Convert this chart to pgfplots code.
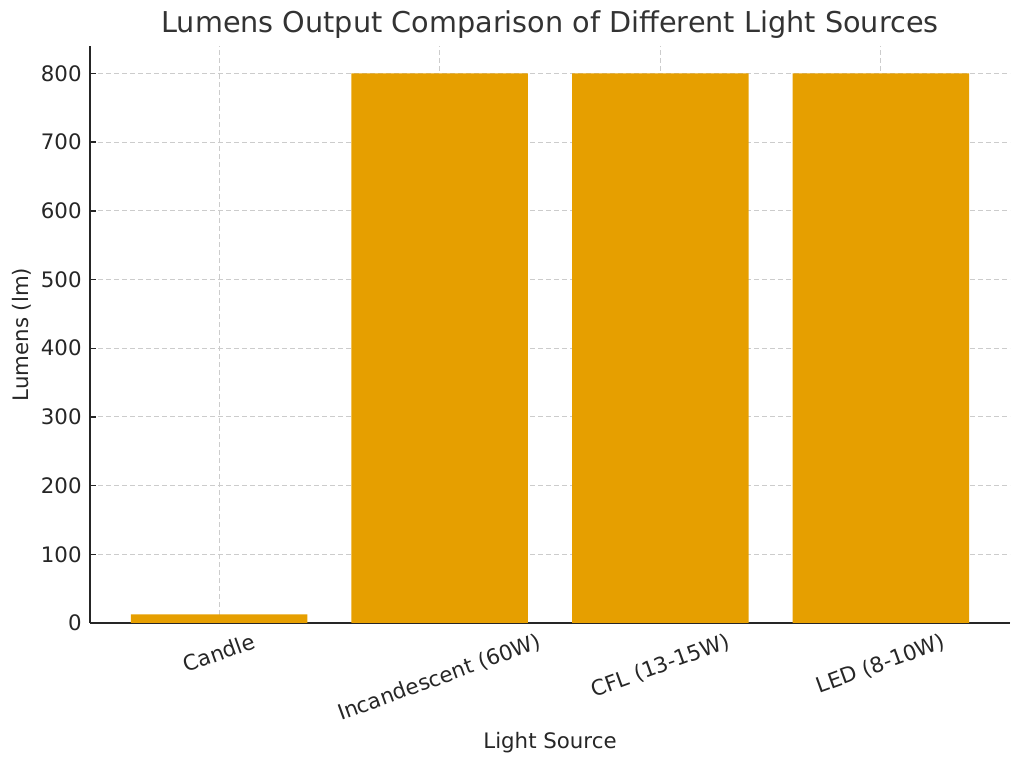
\documentclass[border=0pt]{standalone}
\usepackage{fontspec}
\setmainfont{DejaVu Sans}
\usepackage{pgfplots}
\pgfplotsset{compat=1.18}
\definecolor{barc}{HTML}{E69F00}
\definecolor{txt}{HTML}{262626}
\definecolor{ttl}{HTML}{333333}
\definecolor{gridc}{HTML}{CCCCCC}
\begin{document}
\begin{tikzpicture}
\begin{axis}[
  name=ax,
  scale only axis,
  width=460bp, height=288.5bp,
  xmin=-0.585, xmax=3.585, ymin=0, ymax=840,
  axis x line*=bottom, axis y line*=left,
  axis line style={txt, line width=0.7bp},
  ybar, bar width=0.8,
  xtick={0,1,2,3},
  xticklabels={\rotatebox{20}{Candle},\rotatebox{20}{Incandescent (60W)},\rotatebox{20}{CFL (13-15W)},\rotatebox{20}{LED (8-10W)}},
  ytick={0,100,...,800},
  tick align=inside,
  major tick length=3bp,
  tick style={txt, line width=0.7bp},
  grid=major,
  major grid style={gridc, dash pattern=on 2.5bp off 1.5bp, line width=0.5bp},
  /pgf/number format/assume math mode=true,
  ticklabel style={font=\fontsize{10.7}{12}\selectfont, text=txt},
  yticklabel style={inner sep=0pt, anchor=east, xshift=-4bp},
  xticklabel style={inner sep=0pt, anchor=north, yshift=-4.5bp},
  xlabel={Light Source},
  ylabel={Lumens (lm)},
  label style={font=\fontsize{10.7}{12}\selectfont, text=txt},
  xlabel style={at={(axis description cs:0.5,-0.2080)}, anchor=center},
  ylabel style={at={(axis description cs:-0.0739,0.5)}, anchor=center},
  every axis title shift=0pt,
  title={Lumens Output Comparison of Different Light Sources},
  title style={font=\fontsize{14.4}{16}\selectfont, text=ttl, at={(axis description cs:0.5,1.0364)}, anchor=center},
  clip=false,
]
\addplot[fill=barc, draw=none] coordinates {(0,12.57) (1,800) (2,800) (3,800)};
\end{axis}
\pgfresetboundingbox
\path ([xshift=-45bp,yshift=-71bp]ax.south west) rectangle ([xshift=7bp,yshift=23bp]ax.north east);
\end{tikzpicture}
\end{document}
